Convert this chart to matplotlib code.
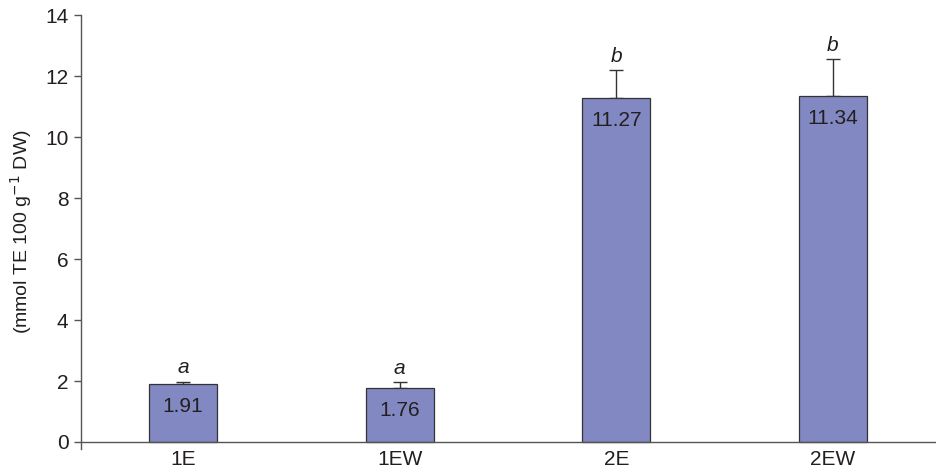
import numpy as np
import matplotlib.pyplot as plt

plt.rcParams['font.family'] = ['Liberation Sans', 'DejaVu Sans']

# data
groups = ['1E', '1EW', '2E', '2EW']
means = [1.91, 1.76, 11.27, 11.34]
errs = [0.07, 0.20, 0.93, 1.22]
letters = ['a', 'a', 'b', 'b']

bar_col = '#8288c2'
txt_col = '#231f20'

fig = plt.figure(figsize=(9.37, 4.72), dpi=100)
ax = fig.add_axes([0.0865, 0.0487, 0.9135, 0.9195])

x = np.arange(len(groups))
ax.bar(x, means, width=0.313, color=bar_col, edgecolor='#333333', linewidth=0.9, zorder=2)
ax.errorbar(x, means, yerr=[np.zeros(len(errs)), errs], fmt='none',
            ecolor='#333333', elinewidth=1.0, capsize=5, capthick=1.0, zorder=1)

for xi, m, e, l in zip(x, means, errs, letters):
    ax.text(xi, m - 0.42, '%.2f' % m, ha='center', va='top', fontsize=15, color=txt_col)
    ax.text(xi, m + e + 0.14, l, ha='center', va='bottom', fontsize=15,
            style='italic', color=txt_col)

ax.set_xlim(-0.47, 3.48)
ax.set_ylim(-0.23, 14)
ax.set_yticks(np.arange(0, 15, 2))
ax.set_xticks(x)
ax.set_xticklabels(groups)

ax.spines['top'].set_visible(False)
ax.spines['right'].set_visible(False)
ax.spines['bottom'].set_position(('data', 0))
for s in ['left', 'bottom']:
    ax.spines[s].set_color('#555555')
    ax.spines[s].set_linewidth(1.0)

ax.tick_params(axis='y', direction='out', length=5, width=1, color='#555555',
               labelsize=15, labelcolor=txt_col, pad=4)
ax.tick_params(axis='x', length=0, labelsize=15, labelcolor=txt_col, pad=6)

ax.set_ylabel('(mmol TE 100 g$^{-1}$ DW)', fontsize=14, color=txt_col, labelpad=8)

fig.savefig('out.png', dpi=100)
